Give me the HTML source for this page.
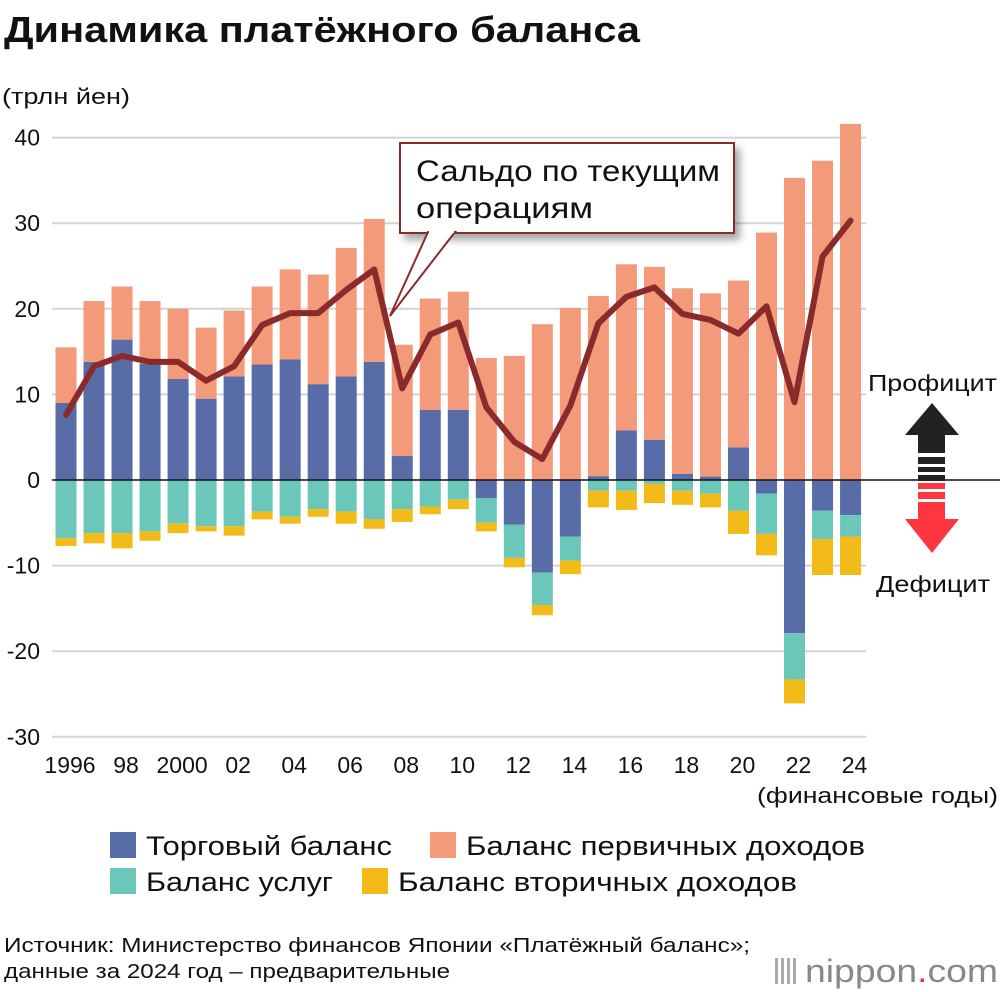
<!DOCTYPE html>
<html><head><meta charset="utf-8">
<style>
body{margin:0;background:#fff;}
#wrap{position:relative;width:1000px;height:992px;overflow:hidden;font-family:"Liberation Sans","DejaVu Sans",sans-serif;}
svg text{font-family:"Liberation Sans","DejaVu Sans",sans-serif;}
</style></head>
<body>
<div id="wrap">
<svg id="chart" width="1000" height="992" viewBox="0 0 1000 992">
<defs>
<filter id="sh" x="-10%" y="-10%" width="130%" height="140%"><feDropShadow dx="5" dy="6" stdDeviation="4" flood-color="#000" flood-opacity="0.35"/></filter>
</defs>
<text x="4" y="42" font-size="36" font-weight="bold" fill="#111" textLength="636" lengthAdjust="spacingAndGlyphs">Динамика платёжного баланса</text>
<text x="2" y="104" font-size="22" fill="#111" textLength="128" lengthAdjust="spacingAndGlyphs">(трлн йен)</text>
<g id="grid"></g>
<g id="bars"></g>
<g id="line"></g>
<g id="xlabels"></g>
<text x="998" y="803" font-size="22" text-anchor="end" fill="#111" textLength="241" lengthAdjust="spacingAndGlyphs">(финансовые годы)</text>
<g>
<rect x="400" y="143" width="334" height="90" fill="#fff" stroke="#8b2a2a" stroke-width="2" filter="url(#sh)"/>
<polygon points="428,232 455,232 390,316" fill="#fff" stroke="#8b2a2a" stroke-width="2"/>
<rect x="429" y="228" width="25" height="5" fill="#fff"/>
<text x="416" y="181" font-size="30" fill="#111" textLength="304" lengthAdjust="spacingAndGlyphs">Сальдо по текущим</text>
<text x="416" y="218" font-size="30" fill="#111" textLength="177" lengthAdjust="spacingAndGlyphs">операциям</text>
</g>
<g>
<text x="868" y="391" font-size="23" fill="#111" textLength="129" lengthAdjust="spacingAndGlyphs">Профицит</text>
<polygon points="905,435 932,403 959,435 945,435 945,453 918,453 918,435" fill="#222"/>
<rect x="918" y="457" width="27" height="7" fill="#222"/>
<rect x="918" y="467" width="27" height="5" fill="#222"/>
<rect x="918" y="475" width="27" height="6" fill="#222"/>
<rect x="918" y="483" width="27" height="6" fill="#ff363d"/>
<rect x="918" y="492" width="27" height="7" fill="#ff363d"/>
<polygon points="918,502 945,502 945,519 959,519 932,553 905,519 918,519" fill="#ff363d"/>
<text x="876" y="592" font-size="23" fill="#111" textLength="114" lengthAdjust="spacingAndGlyphs">Дефицит</text>
</g>
<g>
<rect x="110" y="832" width="26" height="26" fill="#586ca8"/>
<text x="146" y="855" font-size="27" fill="#111" textLength="246" lengthAdjust="spacingAndGlyphs">Торговый баланс</text>
<rect x="430" y="832" width="26" height="26" fill="#f29a7a"/>
<text x="466" y="855" font-size="27" fill="#111" textLength="399" lengthAdjust="spacingAndGlyphs">Баланс первичных доходов</text>
<rect x="110" y="868" width="26" height="26" fill="#6cc7bb"/>
<text x="146" y="891" font-size="27" fill="#111" textLength="187" lengthAdjust="spacingAndGlyphs">Баланс услуг</text>
<rect x="362" y="868" width="26" height="26" fill="#f2bb17"/>
<text x="398" y="891" font-size="27" fill="#111" textLength="399" lengthAdjust="spacingAndGlyphs">Баланс вторичных доходов</text>
</g>
<text x="4" y="952" font-size="20" fill="#111" textLength="746" lengthAdjust="spacingAndGlyphs">Источник: Министерство финансов Японии «Платёжный баланс»;</text>
<text x="4" y="978" font-size="20" fill="#111" textLength="446" lengthAdjust="spacingAndGlyphs">данные за 2024 год – предварительные</text>
<g>
<rect x="775" y="958" width="3" height="26" fill="#aaa"/><rect x="781" y="958" width="3" height="26" fill="#aaa"/><rect x="787" y="958" width="3" height="26" fill="#aaa"/><rect x="793" y="958" width="3" height="26" fill="#aaa"/>
<text x="805" y="982" font-size="32" fill="#888" textLength="193" lengthAdjust="spacingAndGlyphs">nippon<tspan fill="#e33">.</tspan>com</text>
</g>
</svg>
</div>
<script>
const years = [1996,1997,1998,1999,2000,2001,2002,2003,2004,2005,2006,2007,2008,2009,2010,2011,2012,2013,2014,2015,2016,2017,2018,2019,2020,2021,2022,2023,2024];
const trade = [9.0,13.8,16.4,13.6,11.8,9.5,12.1,13.5,14.1,11.2,12.1,13.8,2.8,8.2,8.2,-2.1,-5.2,-10.8,-6.6,0.45,5.8,4.7,0.7,0.4,3.8,-1.6,-17.9,-3.6,-4.1];
const primary = [6.5,7.1,6.2,7.3,8.2,8.3,7.7,9.1,10.5,12.8,15.0,16.7,13.0,13.0,13.8,14.25,14.5,18.2,20.1,21.05,19.4,20.2,21.7,21.4,19.5,28.9,35.3,37.3,41.6];
const services = [-6.8,-6.2,-6.2,-6.0,-5.1,-5.4,-5.4,-3.7,-4.3,-3.4,-3.7,-4.6,-3.4,-3.1,-2.3,-2.9,-3.9,-3.8,-2.8,-1.25,-1.25,-0.45,-1.25,-1.6,-3.6,-4.7,-5.4,-3.3,-2.5];
const secondary = [-0.9,-1.2,-1.8,-1.1,-1.1,-0.6,-1.1,-0.9,-0.8,-0.9,-1.4,-1.1,-1.5,-0.9,-1.1,-1.0,-1.1,-1.2,-1.6,-1.95,-2.25,-2.25,-1.65,-1.6,-2.7,-2.5,-2.8,-4.2,-4.5];
const current = [7.6,13.3,14.5,13.8,13.8,11.6,13.3,18.1,19.5,19.5,22.2,24.6,10.7,17.0,18.4,8.5,4.45,2.45,8.7,18.3,21.4,22.5,19.4,18.7,17.1,20.3,9.1,26.1,30.3];
const yTicks = [40,30,20,10,0,-10,-20,-30];
const xTickLabels = ["1996","98","2000","02","04","06","08","10","12","14","16","18","20","22","24"];

const NS="http://www.w3.org/2000/svg";
const y0=480, pxPerUnit=8.56, x0=66, step=28.02, bw=21;
function yScale(v){return y0 - v*pxPerUnit;}
function xScale(i){return x0 + i*step;}
function mk(tag,attrs,parent){const e=document.createElementNS(NS,tag);for(const k in attrs)e.setAttribute(k,attrs[k]);parent.appendChild(e);return e;}

const grid=document.getElementById('grid');
yTicks.forEach(t=>{
  if(t!==0){const l=mk('line',{x1:52,x2:866,y1:yScale(t),y2:yScale(t),stroke:'#d4d4d4','stroke-width':2},grid);
  
  }
  const tx=mk('text',{x:40,y:yScale(t)+8,'font-size':23,'text-anchor':'end',fill:'#111'},grid);
  tx.textContent=String(t);
  
  
});

const bars=document.getElementById('bars');
function seg(i,a,b,color,name){
  const top=Math.min(yScale(a),yScale(b)),h=Math.abs(yScale(a)-yScale(b));
  const r=mk('rect',{x:xScale(i)-bw/2,y:top,width:bw,height:h,fill:color},bars);
  
  
}
years.forEach((yr,i)=>{
  let pos=0,neg=0;
  if(trade[i]>=0){seg(i,0,trade[i],'#586ca8','bar-trade');pos=trade[i];}
  else{seg(i,0,trade[i],'#586ca8','bar-trade');neg=trade[i];}
  seg(i,pos,pos+primary[i],'#f29a7a','bar-primary-income');
  seg(i,neg,neg+services[i],'#6cc7bb','bar-services');neg+=services[i];
  seg(i,neg,neg+secondary[i],'#f2bb17','bar-secondary-income');
});
const zl=mk('line',{x1:52,x2:1000,y1:y0,y2:y0,stroke:'#111','stroke-width':1.5},bars);



const lineG=document.getElementById('line');
const pts=current.map((v,i)=>xScale(i)+','+yScale(v)).join(' ');
const pl=mk('polyline',{points:pts,fill:'none',stroke:'#8b2a2a','stroke-width':6,'stroke-linejoin':'round','stroke-linecap':'round'},lineG);



const xl=document.getElementById('xlabels');
xTickLabels.forEach((lab,k)=>{
  const t=mk('text',{x:xScale(k*2)+4,y:773,'font-size':23,'text-anchor':'middle',fill:'#111'},xl);
  t.textContent=lab;
  
  
});
</script>
</body></html>
